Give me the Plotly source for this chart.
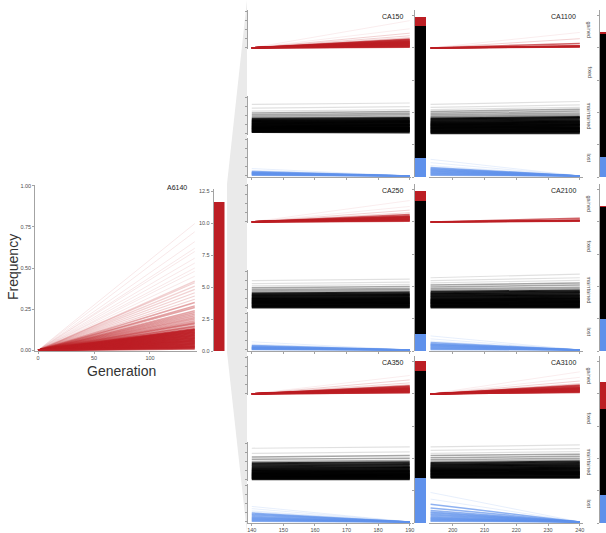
import plotly.graph_objects as go

# ---------------- data ----------------
a6140_generations = [0, 140]
a6140_final_freq = [0.77, 0.72, 0.66, 0.62, 0.60, 0.56, 0.53, 0.50, 0.48, 0.45, 0.42, 0.41,
                    0.39, 0.37, 0.35, 0.33, 0.31, 0.29, 0.27, 0.26, 0.24, 0.23, 0.22, 0.21,
                    0.20, 0.19, 0.18, 0.17, 0.165, 0.16, 0.15, 0.145, 0.14, 0.13, 0.125, 0.12,
                    0.115, 0.11, 0.105, 0.10, 0.095, 0.09, 0.085, 0.08, 0.075, 0.07, 0.065,
                    0.06, 0.055, 0.05, 0.045, 0.04, 0.035, 0.03, 0.025, 0.02, 0.015, 0.01]
a6140_gained_count = 11.7

cell_names = ["CA150", "CA1100", "CA250", "CA2100", "CA350", "CA3100"]
col1_generations = [140, 190]
col2_generations = [193, 240]
col1_ticks = [140, 150, 160, 170, 180, 190]
col2_ticks = [200, 210, 220, 230, 240]
a6140_ticks = [0, 50, 100]
strip_labels = ["gained", "fixed", "maintained", "lost"]
freq_ticks = [0, 0.25, 0.5, 0.75, 1.0]
freq_tick_text = ["0.00", "0.25", "0.50", "0.75", "1.00"]
count_ticks = [0, 2.5, 5, 7.5, 10, 12.5]
count_tick_text = ["0.0", "2.5", "5.0", "7.5", "10.0", "12.5"]

ca150_gained_end = [0.74, 0.52, 0.40, 0.33, 0.28, 0.24, 0.22, 0.21, 0.19, 0.18, 0.17, 0.16, 0.15,
                    0.14, 0.13, 0.12, 0.11, 0.10, 0.09, 0.08, 0.07, 0.06, 0.05, 0.04, 0.03, 0.02]
ca150_maint_start = [0.05, 0.06, 0.08, 0.10, 0.11, 0.13, 0.15, 0.16, 0.18, 0.20, 0.21, 0.23, 0.25,
                     0.27, 0.29, 0.31, 0.33, 0.35, 0.38, 0.41, 0.44, 0.48, 0.52, 0.57, 0.62, 0.70, 0.80]
ca150_maint_end = [0.04, 0.07, 0.08, 0.11, 0.12, 0.13, 0.16, 0.17, 0.18, 0.21, 0.23, 0.24, 0.26,
                   0.28, 0.31, 0.32, 0.35, 0.37, 0.40, 0.43, 0.47, 0.52, 0.56, 0.61, 0.66, 0.74, 0.84]
ca150_lost_start = [0.20, 0.15, 0.12, 0.10, 0.09, 0.08, 0.07, 0.06, 0.05, 0.04, 0.03, 0.02]

ca1100_gained_end = [0.42, 0.25, 0.12, 0.06, 0.05, 0.045, 0.04, 0.035, 0.03, 0.025]
ca1100_maint_start = [0.02, 0.04, 0.06, 0.08, 0.10, 0.12, 0.14, 0.16, 0.18, 0.20, 0.22, 0.24, 0.26,
                      0.28, 0.30, 0.33, 0.36, 0.39, 0.42, 0.45, 0.48, 0.52, 0.56, 0.61, 0.66, 0.72, 0.80]
ca1100_maint_end = [0.02, 0.05, 0.07, 0.08, 0.11, 0.13, 0.15, 0.17, 0.19, 0.22, 0.24, 0.26, 0.28,
                    0.31, 0.33, 0.36, 0.39, 0.43, 0.46, 0.49, 0.53, 0.57, 0.62, 0.67, 0.72, 0.79, 0.88]
ca1100_lost_start = [0.45, 0.36, 0.28, 0.23, 0.20, 0.18, 0.16, 0.14, 0.12, 0.10, 0.08, 0.06, 0.04, 0.02]

ca250_gained_end = [0.58, 0.42, 0.32, 0.25, 0.20, 0.17, 0.15, 0.14, 0.13, 0.12, 0.11, 0.10, 0.09,
                    0.08, 0.07, 0.06, 0.05, 0.04, 0.03, 0.02]
ca250_maint_start = [0.01, 0.03, 0.05, 0.07, 0.09, 0.11, 0.13, 0.15, 0.17, 0.19, 0.21, 0.23, 0.25,
                     0.27, 0.30, 0.33, 0.36, 0.39, 0.42, 0.46, 0.50, 0.55, 0.60, 0.66, 0.74]
ca250_maint_end = [0.01, 0.03, 0.06, 0.07, 0.10, 0.12, 0.13, 0.16, 0.18, 0.20, 0.22, 0.24, 0.27,
                   0.29, 0.32, 0.35, 0.38, 0.42, 0.45, 0.49, 0.53, 0.58, 0.64, 0.70, 0.78]
ca250_lost_start = [0.22, 0.16, 0.12, 0.10, 0.08, 0.07, 0.06, 0.05, 0.04, 0.03, 0.02, 0.01]

ca2100_gained_end = [0.10, 0.05, 0.04, 0.035, 0.03, 0.025, 0.02]
ca2100_maint_start = [0.01, 0.03, 0.05, 0.07, 0.09, 0.11, 0.13, 0.15, 0.17, 0.19, 0.21, 0.23, 0.25,
                      0.28, 0.31, 0.34, 0.37, 0.40, 0.44, 0.48, 0.52, 0.57, 0.62, 0.68, 0.74, 0.82]
ca2100_maint_end = [0.01, 0.03, 0.05, 0.08, 0.10, 0.12, 0.14, 0.16, 0.18, 0.20, 0.22, 0.25, 0.27,
                    0.30, 0.33, 0.36, 0.40, 0.43, 0.47, 0.52, 0.56, 0.62, 0.68, 0.75, 0.82, 0.92]
ca2100_lost_start = [0.38, 0.30, 0.24, 0.20, 0.17, 0.15, 0.13, 0.11, 0.09, 0.07, 0.05, 0.03, 0.01]

ca350_gained_end = [0.50, 0.38, 0.30, 0.25, 0.22, 0.20, 0.19, 0.17, 0.16, 0.15, 0.14, 0.13, 0.12,
                    0.11, 0.10, 0.09, 0.08, 0.07, 0.06, 0.05, 0.04, 0.03]
ca350_maint_start = [0.02, 0.04, 0.05, 0.07, 0.09, 0.10, 0.12, 0.14, 0.15, 0.17, 0.19, 0.21, 0.23,
                     0.25, 0.27, 0.30, 0.33, 0.37, 0.41, 0.45, 0.50, 0.56, 0.62, 0.72, 0.86]
ca350_maint_end = [0.02, 0.04, 0.06, 0.07, 0.09, 0.11, 0.12, 0.14, 0.16, 0.18, 0.20, 0.22, 0.24,
                   0.26, 0.29, 0.32, 0.35, 0.39, 0.43, 0.48, 0.53, 0.59, 0.66, 0.76, 0.90]
ca350_lost_start = [0.42, 0.36, 0.30, 0.27, 0.24, 0.21, 0.18, 0.15, 0.12, 0.10, 0.08, 0.06, 0.04, 0.02]

ca3100_gained_end = [0.60, 0.45, 0.35, 0.28, 0.24, 0.22, 0.20, 0.18, 0.17, 0.16, 0.15, 0.14, 0.13,
                     0.12, 0.11, 0.10, 0.09, 0.08, 0.07, 0.06, 0.05, 0.04]
ca3100_maint_start = [0.06, 0.08, 0.10, 0.12, 0.14, 0.16, 0.18, 0.20, 0.22, 0.24, 0.26, 0.28, 0.30,
                      0.33, 0.36, 0.39, 0.42, 0.46, 0.50, 0.55, 0.60, 0.66, 0.72, 0.80, 0.90]
ca3100_maint_end = [0.06, 0.08, 0.10, 0.13, 0.15, 0.17, 0.19, 0.21, 0.23, 0.25, 0.28, 0.30, 0.33,
                    0.36, 0.39, 0.42, 0.46, 0.50, 0.54, 0.59, 0.64, 0.70, 0.77, 0.85, 0.95]
ca3100_lost_start = [0.80, 0.62, 0.48, 0.38, 0.31, 0.27, 0.24, 0.21, 0.18, 0.15, 0.12, 0.10, 0.08,
                     0.06, 0.04, 0.02]

bar_lost = [1.47, 1.55, 1.31, 2.5, 3.47, 2.2]
bar_maintained = [10.2, 9.5, 10.27, 8.6, 8.26, 6.6]
bar_gained = [0.7, 0.15, 0.77, 0.15, 0.77, 2.1]

cell_data = {
    "CA150": (ca150_gained_end, ca150_maint_start, ca150_maint_end, ca150_lost_start),
    "CA1100": (ca1100_gained_end, ca1100_maint_start, ca1100_maint_end, ca1100_lost_start),
    "CA250": (ca250_gained_end, ca250_maint_start, ca250_maint_end, ca250_lost_start),
    "CA2100": (ca2100_gained_end, ca2100_maint_start, ca2100_maint_end, ca2100_lost_start),
    "CA350": (ca350_gained_end, ca350_maint_start, ca350_maint_end, ca350_lost_start),
    "CA3100": (ca3100_gained_end, ca3100_maint_start, ca3100_maint_end, ca3100_lost_start),
}

# ---------------- styling / layout ----------------
W, H = 606, 533
FONT = "Liberation Sans, Arial, sans-serif"
AXC = "#8c8c8c"
TXT = "#4d4d4d"
RED = (188, 30, 36)
BLUE = (95, 145, 235)
BLACK = (0, 0, 0)


def fx(p):
    return p / W


def fy(p):
    return 1 - p / H


def rgba(c, a):
    return f"rgba({c[0]},{c[1]},{c[2]},{a})"


layout = dict(width=W, height=H, margin=dict(l=0, r=0, t=0, b=0, autoexpand=False),
              paper_bgcolor="white", plot_bgcolor="rgba(0,0,0,0)",
              showlegend=False, barmode="stack", bargap=0,
              font=dict(family=FONT, color=TXT))
traces = []
annotations = []
ax_n = [0]


def add_axes(xpx, ypx, xax, yax):
    ax_n[0] += 1
    n = ax_n[0]
    s = "" if n == 1 else str(n)
    layout["xaxis" + s] = dict(domain=[fx(xpx[0]), fx(xpx[1])], anchor="y" + s, **xax)
    layout["yaxis" + s] = dict(domain=[fy(ypx[1]), fy(ypx[0])], anchor="x" + s, **yax)
    return "x" + s, "y" + s


def axis(**kw):
    d = dict(showgrid=False, zeroline=False, showline=True, linecolor=AXC, linewidth=0.8,
             ticks="outside", ticklen=2, tickwidth=0.8, tickcolor=AXC,
             tickfont=dict(size=5.5, color=TXT, family=FONT), fixedrange=True)
    d.update(kw)
    return d


def hidden(rng):
    return dict(visible=False, range=rng, fixedrange=True)


def seg(xa, ya, xs, ys, col, a, w):
    traces.append(go.Scatter(x=xs, y=ys, xaxis=xa, yaxis=ya, mode="lines",
                             line=dict(color=rgba(col, a), width=w), hoverinfo="skip"))


def note(text, xp, yp, size, color, xanchor="center", yanchor="middle", angle=0):
    annotations.append(dict(text=text, x=fx(xp), y=fy(yp), xref="paper", yref="paper",
                            xanchor=xanchor, yanchor=yanchor, textangle=angle,
                            showarrow=False, font=dict(size=size, color=color, family=FONT)))


# ---- left panel A6140 ----
xa, ya = add_axes((35, 197), (185, 351),
                  axis(range=[-2.7, 142], tickvals=a6140_ticks),
                  axis(range=[-0.004, 1.004], tickvals=freq_ticks, ticktext=freq_tick_text))
for f in sorted(a6140_final_freq, reverse=True):
    if f < 0.14:
        a, w = 0.75, 2.0
    elif f < 0.3:
        a, w = 0.4, 1.5
    elif f < 0.45:
        a, w = 0.2, 1.2
    else:
        a, w = 0.1, 1.0
    seg(xa, ya, a6140_generations, [0, f], RED, a, w)

xa, ya = add_axes((213.5, 224.5), (189, 351),
                  hidden([-0.5, 0.5]),
                  axis(range=[0, 12.7], tickvals=count_ticks, ticktext=count_tick_text))
traces.append(go.Bar(x=[0], y=[a6140_gained_count], width=1, xaxis=xa, yaxis=ya,
                     marker=dict(color=rgba(RED, 1), line=dict(width=0)), hoverinfo="skip"))

note("A6140", 189, 187, 7, "#222", xanchor="right")
note("Frequency", 13, 267, 14, "#333", angle=-90)
note("Generation", 121, 371, 14, "#333")

# ---- grid of continuation panels ----
row_tops = [10, 184, 356]
row_h = 167
strip_off = [(0, 39), (43, 82), (86, 125), (128, 167)]
cols = [
    dict(px=(248, 411), rng=[138.8, 190.4], gens=col1_generations, ticks=col1_ticks,
         bar_px=(415, 426), bar_rng=[-0.5, 0.5], yaxis_vis=True, label_x=406),
    dict(px=(429, 583), rng=[192.5, 241], gens=col2_generations, ticks=col2_ticks,
         bar_px=(600, 606), bar_rng=[-0.5, 0.05], yaxis_vis=False, label_x=578),
]
yr = [-0.03, 1.03]

for i, name in enumerate(cell_names):
    r, c = divmod(i, 2)
    cfg = cols[c]
    top = row_tops[r]
    gained, m_start, m_end, lost = cell_data[name]
    g0, g1 = cfg["gens"]
    strip_axes = []
    for k, (s0, s1) in enumerate(strip_off):
        if k == 3:
            xax = axis(range=cfg["rng"], tickvals=cfg["ticks"], showticklabels=(r == 2))
        else:
            xax = hidden(cfg["rng"])
        if cfg["yaxis_vis"]:
            yax = axis(range=yr, tickvals=freq_ticks, showticklabels=False)
        else:
            yax = hidden(yr)
        strip_axes.append(add_axes(cfg["px"], (top + s0, top + s1), xax, yax))
        if c == 1:
            note(strip_labels[k], 589, top + (s0 + s1) / 2, 5.5, TXT, angle=90)
    # gained
    xa, ya = strip_axes[0]
    for v in sorted(gained, reverse=True):
        if v <= 0.24:
            a, w = 0.7, 1.5
        elif v <= 0.4:
            a, w = 0.2, 1.0
        else:
            a, w = 0.08, 1.0
        seg(xa, ya, [g0, g1], [0, v], RED, a, w)
    # maintained
    xa, ya = strip_axes[2]
    vmax = max(m_end)
    for s, e in sorted(zip(m_start, m_end), reverse=True):
        if e <= 0.55 * vmax:
            a, w = 0.85, 2.0
        elif e <= 0.78 * vmax:
            a, w = 0.35, 1.5
        else:
            a, w = 0.12, 1.2
        seg(xa, ya, [g0, g1], [s, e], BLACK, a, w)
    # lost
    xa, ya = strip_axes[3]
    lmax = max(lost)
    for v in sorted(lost, reverse=True):
        if v <= 0.6 * lmax:
            a, w = 0.7, 1.5
        else:
            a, w = 0.15, 1.0
        seg(xa, ya, [g0, g1], [v, 0], BLUE, a, w)

    # stacked count bar
    bxa, bya = add_axes(cfg["bar_px"], (top, top + row_h),
                        hidden(cfg["bar_rng"]),
                        axis(range=[0, row_h / 12.93], tickvals=count_ticks, showticklabels=False))
    for val, col in ((bar_lost[i], BLUE), (bar_maintained[i], BLACK), (bar_gained[i], RED)):
        traces.append(go.Bar(x=[0], y=[val], width=1, xaxis=bxa, yaxis=bya,
                             marker=dict(color=rgba(col, 1), line=dict(width=0)),
                             hoverinfo="skip"))

    note(name, cfg["label_x"], top + 1, 7, "#222", xanchor="right", yanchor="top")

# funnel connecting the left panel to the continuation grid
funnel = (f"M {fx(247)},{fy(0)} L {fx(227)},{fy(184)} L {fx(227)},{fy(352)} "
          f"L {fx(247)},{fy(533)} Z")
layout["shapes"] = [dict(type="path", path=funnel, xref="paper", yref="paper",
                         fillcolor="rgb(234,234,234)", line=dict(width=0), layer="below")]
layout["annotations"] = annotations

fig = go.Figure(data=traces, layout=layout)
fig.write_html("out.html", config={"displayModeBar": False, "staticPlot": True},
               post_script="document.body.style.margin='0';document.body.style.overflow='hidden';")
